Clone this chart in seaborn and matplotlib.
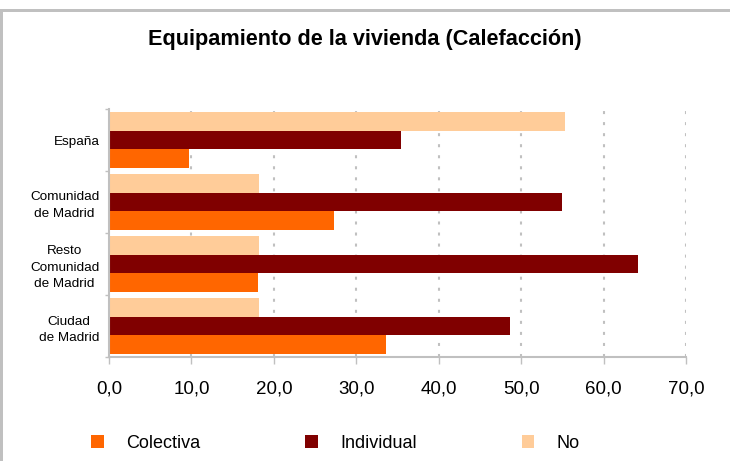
import matplotlib
matplotlib.use("Agg")
import matplotlib.pyplot as plt
import numpy as np
import pandas as pd
import seaborn as sns
from matplotlib.patches import Patch, Rectangle
from matplotlib.ticker import FuncFormatter, FixedLocator

# ---------------------------------------------------------------- data
REGIONS = ["España", "Comunidad\nde Madrid", "Resto\nComunidad\nde Madrid", "Ciudad\nde Madrid"]
SERIES = ["No", "Individual", "Colectiva"]          # top-to-bottom order inside each group
NO = [55.3, 18.2, 18.2, 18.2]
INDIVIDUAL = [35.4, 55.0, 64.2, 48.6]
COLECTIVA = [9.7, 27.3, 18.1, 33.6]
LEGEND_ORDER = ["Colectiva", "Individual", "No"]
COLORS = {"Colectiva": "#FF6600", "Individual": "#800000", "No": "#FFCC99"}
XTICKS = [0, 10, 20, 30, 40, 50, 60, 70]

df = pd.DataFrame({
    "region": REGIONS * 3,
    "serie": ["No"] * 4 + ["Individual"] * 4 + ["Colectiva"] * 4,
    "valor": NO + INDIVIDUAL + COLECTIVA,
})

# ---------------------------------------------------------------- plot
sns.set_theme(style="white")
plt.rcParams["font.family"] = ["Liberation Sans", "DejaVu Sans"]
plt.rcParams["text.color"] = "#000000"
GRAY = "#C0C0C0"

fig = plt.figure(figsize=(7.30, 4.61), dpi=100)
ax = fig.add_axes([109 / 730, 1 - 357 / 461, 577 / 730, 248 / 461])

sns.barplot(data=df, x="valor", y="region", hue="serie", hue_order=SERIES,
            order=REGIONS, palette=COLORS, orient="h", width=0.9,
            saturation=1, legend=False, ax=ax, zorder=3,
            linewidth=0, edgecolor="none")

ax.set_xlim(0, 70)
ax.set_ylim(3.5, -0.5)
ax.set_xlabel("")
ax.set_ylabel("")

ax.xaxis.set_major_locator(FixedLocator(XTICKS))
ax.xaxis.set_major_formatter(FuncFormatter(lambda v, _: f"{v:.1f}".replace(".", ",")))
ax.tick_params(axis="x", length=5, width=1, color=GRAY, pad=12, labelsize=13.5,
               labelcolor="#000000", bottom=True)

# category separators on the y axis, labels in between
ax.set_yticks(range(len(REGIONS)))
ax.set_yticklabels(REGIONS, fontsize=9.7, color="#000000", linespacing=1.45,
                   multialignment="center")
ax.set_yticks(np.arange(-0.5, len(REGIONS)), minor=True)
ax.tick_params(axis="y", which="major", length=0, pad=7)
ax.tick_params(axis="y", which="minor", length=3, width=1, color=GRAY, left=True)

for v in XTICKS[1:]:
    ax.axvline(v, color=GRAY, lw=1.5, linestyle=(0, (1.45, 3.85)), zorder=1)

for side in ["top", "right"]:
    ax.spines[side].set_visible(False)
for side in ["left", "bottom"]:
    ax.spines[side].set_color(GRAY)
    ax.spines[side].set_linewidth(1.5)
    ax.spines[side].set_zorder(4)

fig.text(0.5, 1 - 40 / 461, "Equipamiento de la vivienda (Calefacción)",
         ha="center", va="center", fontsize=15.6, fontweight="bold", color="#000000")

handles = [Patch(facecolor=COLORS[s], edgecolor="none", label=s) for s in LEGEND_ORDER]
fig.legend(handles=handles, loc="center left", bbox_to_anchor=(91 / 730, 1 - 443 / 461),
           ncol=3, frameon=False, fontsize=13, handlelength=0.7, handleheight=0.7,
           handletextpad=1.25, columnspacing=5.8, borderpad=0, borderaxespad=0,
           labelcolor="#000000")

# grey frame edges (top and left)
fig.add_artist(Rectangle((0, 1 - 12 / 461), 1, 3 / 461, transform=fig.transFigure,
                         facecolor=GRAY, edgecolor="none"))
fig.add_artist(Rectangle((0, 0), 3 / 730, 1 - 9 / 461, transform=fig.transFigure,
                         facecolor=GRAY, edgecolor="none"))

fig.savefig("out.png", dpi=100)
